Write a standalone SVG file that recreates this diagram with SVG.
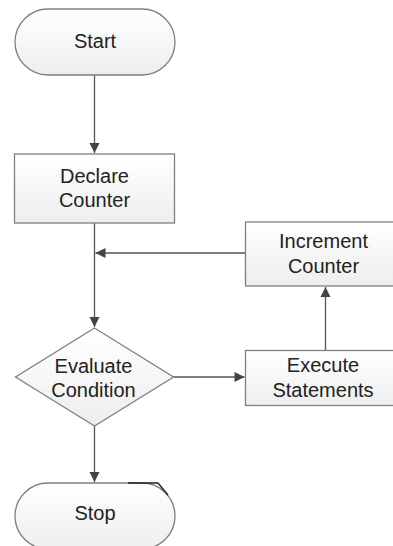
<svg xmlns="http://www.w3.org/2000/svg" width="393" height="546" viewBox="0 0 393 546">
  <style>
    .shape { fill: url(#shade); stroke: #7f7f7f; stroke-width: 1.3; }
    .label { font-family: "Liberation Sans", Arial, sans-serif; font-size: 20px; fill: #222; text-anchor: middle; }
    .link { fill: none; stroke: #555; stroke-width: 1.3; marker-end: url(#arrow); }
    .plain { fill: none; stroke: #555; stroke-width: 1.3; }
  </style>
  <defs>
    <linearGradient id="shade" x1="0" y1="0" x2="0" y2="1">
      <stop offset="0" stop-color="#ffffff"/>
      <stop offset="1" stop-color="#eeeeee"/>
    </linearGradient>
    <marker id="arrow" markerUnits="userSpaceOnUse" markerWidth="12" markerHeight="12" viewBox="0 0 12 12" refX="11" refY="6" orient="auto">
      <path d="M1 1 L11 6 L1 11 Z" fill="#444"/>
    </marker>
  </defs>

  <rect width="393" height="546" fill="#ffffff"/>

  <!-- connectors -->
  <g id="connectors">
    <path class="link" d="M94.5 75 V153"/>
    <path class="link" d="M94.5 223 V327"/>
    <path class="link" d="M245.5 253 H95.5"/>
    <path class="link" d="M173.5 377 H244.5"/>
    <path class="link" d="M325.5 350 V287"/>
    <path class="link" d="M94.5 426 V482"/>
  </g>

  <g id="start">
    <rect class="shape" x="15" y="9" width="160" height="66" rx="33" ry="33"/>
    <text class="label" x="95" y="48">Start</text>
  </g>

  <g id="declare">
    <rect class="shape" x="14.5" y="154" width="160" height="69"/>
    <text class="label" x="94.5" y="183">Declare</text>
    <text class="label" x="94.5" y="207">Counter</text>
  </g>

  <g id="increment">
    <rect class="shape" x="245.5" y="222" width="160" height="64"/>
    <text class="label" x="323.5" y="248">Increment</text>
    <text class="label" x="323.5" y="273">Counter</text>
  </g>

  <g id="evaluate">
    <polygon class="shape" points="94.5,328 173.5,377 94.5,426 15.5,377"/>
    <text class="label" x="93.5" y="373">Evaluate</text>
    <text class="label" x="93.5" y="397">Condition</text>
  </g>

  <g id="execute">
    <rect class="shape" x="245.5" y="350.5" width="160" height="55"/>
    <text class="label" x="323" y="372">Execute</text>
    <text class="label" x="323" y="397">Statements</text>
  </g>

  <g id="stop">
    <rect class="shape" x="15" y="483" width="160" height="66" rx="33" ry="33"/>
    <path d="M128 483 H158 L168 495" fill="none" stroke="#222" stroke-width="1.4"/>
    <text class="label" x="95" y="520">Stop</text>
  </g>
</svg>
